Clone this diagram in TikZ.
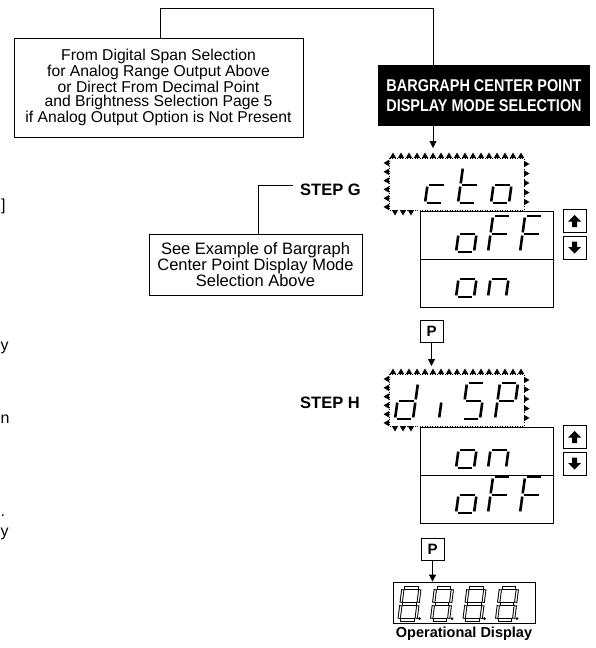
\documentclass[tikz,border=0pt]{standalone}
\usepackage{fontspec}
\setmainfont{Liberation Sans}
\usepackage{graphicx}
\usetikzlibrary{arrows.meta,calc}
\newcommand{\fs}[2]{\fontsize{#1}{#2}\selectfont}
\def\dw{18}\def\dh{36}\def\ds{5}
\newcommand{\sseta}[1]{\draw[#1] (\ds,-\dh) -- (\ds+\dw,-\dh);}
\newcommand{\ssetb}[1]{\draw[#1] (\ds+\dw,-\dh) -- (\ds/2+\dw,-\dh/2);}
\newcommand{\ssetc}[1]{\draw[#1] (\ds/2+\dw,-\dh/2) -- (\dw,0);}
\newcommand{\ssetd}[1]{\draw[#1] (0,0) -- (\dw,0);}
\newcommand{\ssete}[1]{\draw[#1] (\ds/2,-\dh/2) -- (0,0);}
\newcommand{\ssetf}[1]{\draw[#1] (\ds,-\dh) -- (\ds/2,-\dh/2);}
\newcommand{\ssetg}[1]{\draw[#1] (\ds/2,-\dh/2) -- (\ds/2+\dw,-\dh/2);}
\newcommand{\ssetp}[1]{\fill (\dw+3.5,-1.4) circle[radius=1.5];}
\newcommand{\sdig}[4][seg]{%
  \begin{scope}[shift={(#2,#3)}]
    \foreach \s in {#4}{\csname sset\s\endcsname{#1}}
  \end{scope}}
\newcommand{\blinkframe}{%
  \foreach \k in {0,...,16}{\fill (393+8*\k-3.2,158) -- (393+8*\k+3.2,158) -- (393+8*\k,152.5) -- cycle;}
  \foreach \k in {0,...,5}{\fill (389,163+8.8*\k-3.2) -- (389,163+8.8*\k+3.2) -- (383.5,163+8.8*\k) -- cycle;}
  \foreach \xx in {395,403,411}{\fill (\xx-3.2,210) -- (\xx+3.2,210) -- (\xx,215.5) -- cycle;}
  \foreach \k in {0,...,4}{\fill (524,164+9.5*\k-3.2) -- (524,164+9.5*\k+3.2) -- (529.5,164+9.5*\k) -- cycle;}
  \draw[line width=0.4pt, dash pattern=on 1pt off 1.5pt] (389,158) rectangle (524,210);}
\newcommand{\uparr}{(0,-6) -- (6.5,0.5) -- (2.5,0.5) -- (2.5,6) -- (-2.5,6) -- (-2.5,0.5) -- (-6.5,0.5) -- cycle}
\newcommand{\dnarr}{(0,6) -- (6.5,-0.5) -- (2.5,-0.5) -- (2.5,-6) -- (-2.5,-6) -- (-2.5,-0.5) -- (-6.5,-0.5) -- cycle}
\tikzset{
  box/.style={draw, line width=0.8pt, align=center, inner sep=0pt},
  seg/.style={line width=2.6pt, shorten <=1.6pt, shorten >=1.6pt},
  hsegA/.style={line width=3.2pt, shorten <=1.3pt, shorten >=1.3pt},
  hsegB/.style={white, line width=1.3pt, shorten <=2.3pt, shorten >=2.3pt},
  conn/.style={line width=0.8pt},
  arr/.style={conn, -{Triangle[width=7pt,length=7pt]}},
  steplbl/.style={font=\bfseries\fs{16.5}{18}, anchor=west, inner sep=0pt},
  btn/.style={box, minimum width=23, minimum height=23},
  pbtn/.style={box, minimum width=23, minimum height=22, font=\bfseries\fs{15}{15}},
  stray/.style={font=\fs{16}{18}, anchor=base west, inner sep=0pt},
}
\begin{document}
\begin{tikzpicture}[x=1pt,y=-1pt]
\useasboundingbox (0,0) rectangle (595,648);

% characters from the neighbouring column
\node[stray] (s1) at (1,210) {]};
\node[stray] (s2) at (0.5,350) {y};
\node[stray] (s3) at (0.5,423) {n};
\node[stray] (s4) at (0.5,516) {.};
\node[stray] (s5) at (0.5,536) {y};

% source box and title
\node[box, minimum width=289, minimum height=99, font=\fs{15.7}{14.6}] (src) at (158.5,87.5)
  {From Digital Span Selection\\for Analog Range Output Above\\or Direct From Decimal Point\\and Brightness Selection Page 5\\if Analog Output Option is Not Present};
\node[fill=black, text=white, minimum width=212, minimum height=61, inner sep=0pt, font=\bfseries\fs{17}{20}, align=center] (title) at (484,95.5)
  {\scalebox{0.85}[1]{BARGRAPH CENTER POINT}\\\scalebox{0.85}[1]{DISPLAY MODE SELECTION}};
\coordinate (c1) at (160,8);
\coordinate (gin) at (433,148);
\draw[conn] (src.north -| c1) -- (c1) -| (title.north -| gin);
\draw[arr] (title.south -| gin) -- (gin);

% STEP G
\node[steplbl] (stepG) at (300,190) {STEP G};
\node[box, minimum width=213, minimum height=61, font=\fs{16.5}{15}] (seeex) at (255.5,264.5)
  {See Example of Bargraph\\Center Point Display Mode\\Selection Above};
\coordinate (gl) at (258,185);
\draw[conn, shorten >=7pt] (seeex.north -| gl) |- (stepG.west |- gl);

\blinkframe
\sdig{425}{203}{g,e,d}
\sdig{458}{203}{f,e,g,d}
\sdig{491}{203}{g,c,d,e}

\node[box, minimum width=133, minimum height=96] (optG) at (486.5,259) {};
\draw[conn] (optG.west) -- (optG.east);
\sdig{456}{252}{g,c,d,e}
\sdig{488}{252}{a,f,g,e}
\sdig{520}{252}{a,f,g,e}
\sdig{456}{297}{g,c,d,e}
\sdig{488}{297}{g,e,c}

\node[btn] (upG) at (574.5,221) {};
\node[btn] (dnG) at (574.5,247.5) {};
\fill[shift={(upG.center)}] \uparr;
\fill[shift={(dnG.center)}] \dnarr;

% P and STEP H
\node[pbtn] (p1) at (431.5,331) {P};
\coordinate (hin) at (431.5,366);
\draw[arr] (p1.south) -- (hin);

\node[steplbl] (stepH) at (300,403) {STEP H};
\begin{scope}[shift={(0,216)}]
\blinkframe
\end{scope}
\sdig{395}{419}{b,c,d,e,g}
\sdig{439}{419}{e}
\sdig{462}{419}{a,f,g,c,d}
\sdig{495}{419}{a,b,f,g,e}

\node[box, minimum width=133, minimum height=96] (optH) at (486.5,475) {};
\draw[conn] (optH.west) -- (optH.east);
\sdig{456}{468}{g,c,d,e}
\sdig{488}{468}{g,e,c}
\sdig{456}{513}{g,c,d,e}
\sdig{488}{513}{a,f,g,e}
\sdig{520}{513}{a,f,g,e}

\node[btn] (upH) at (574.5,437) {};
\node[btn] (dnH) at (574.5,463.5) {};
\fill[shift={(upH.center)}] \uparr;
\fill[shift={(dnH.center)}] \dnarr;

% operational display
\node[pbtn] (p2) at (432.5,549) {P};
\node[box, minimum width=142, minimum height=41] (disp) at (464,602.5) {};
\draw[arr] (p2.south) -- (p2.south |- disp.north);
\def\dw{17}\def\dh{32}\def\ds{4}
\foreach \xx in {399,431.5,464,496.5}{
  \sdig[hsegA]{\xx}{620}{a,b,c,d,e,f,g,p}
  \sdig[hsegB]{\xx}{620}{a,b,c,d,e,f,g}
}
\node[font=\bfseries\fs{14.5}{15}, inner sep=0pt] (oplbl) at (464,634) {Operational Display};
\end{tikzpicture}
\end{document}
